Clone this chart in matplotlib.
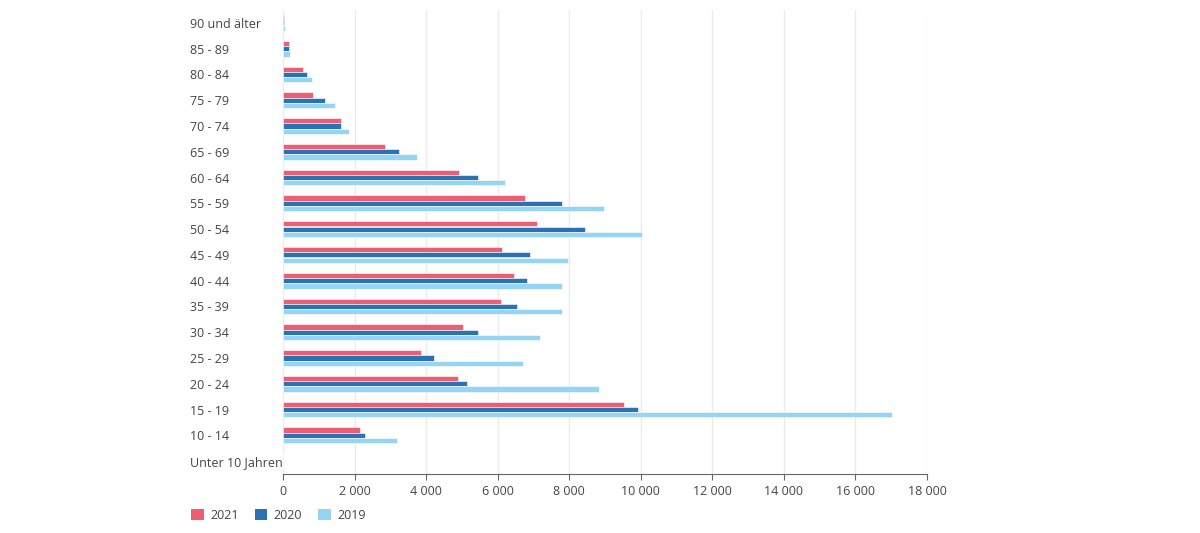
import matplotlib.pyplot as plt
import numpy as np
from matplotlib.patches import Patch

# Daten (von oben nach unten)
altersgruppen = ['90 und älter', '85 - 89', '80 - 84', '75 - 79', '70 - 74', '65 - 69',
                 '60 - 64', '55 - 59', '50 - 54', '45 - 49', '40 - 44', '35 - 39',
                 '30 - 34', '25 - 29', '20 - 24', '15 - 19', '10 - 14', 'Unter 10 Jahren']
werte_2021 = [20, 160, 550, 840, 1620, 2850, 4930, 6760, 7090, 6110, 6470, 6080,
              5020, 3860, 4880, 9520, 2140, 0]
werte_2020 = [30, 175, 670, 1165, 1620, 3230, 5450, 7800, 8430, 6910, 6830, 6550,
              5450, 4210, 5140, 9930, 2280, 0]
werte_2019 = [45, 205, 810, 1450, 1835, 3750, 6210, 8970, 10040, 7970, 7800, 7790,
              7190, 6710, 8830, 17030, 3200, 0]
jahre = ['2021', '2020', '2019']
farben = ['#EC5F73', '#2B72B5', '#95D5F3']

plt.rcParams['font.family'] = ['Open Sans', 'DejaVu Sans']

fig = plt.figure(figsize=(12, 5.33), dpi=100)
ax = fig.add_axes([0.2358, 0.1107, 0.5367, 0.8705])

y = np.arange(len(altersgruppen))
h = 0.2
for i, (werte, farbe) in enumerate(zip([werte_2021, werte_2020, werte_2019], farben)):
    ax.barh(y + (i - 1) * 0.205, werte, height=h, color=farbe,
            edgecolor='white', linewidth=0.4, zorder=3)

ax.set_ylim(len(altersgruppen) - 0.5, -0.5)
ax.set_xlim(0, 18000)
ax.set_xticks(range(0, 18001, 2000))
ax.set_xticklabels([f'{v:,}'.replace(',', ' ') for v in range(0, 18001, 2000)])
ax.set_yticks(y)
ax.set_yticklabels(altersgruppen, ha='left')

ax.tick_params(axis='y', length=0, pad=67, labelsize=9, labelcolor='#444444')
ax.tick_params(axis='x', length=4, width=0.8, color='#666666', pad=4,
               labelsize=9, labelcolor='#444444')
ax.grid(axis='x', color='#ebebeb', linewidth=1, zorder=0)
for s in ['top', 'right', 'left']:
    ax.spines[s].set_visible(False)
ax.spines['bottom'].set_color('#666666')
ax.spines['bottom'].set_linewidth(0.8)

handles = [Patch(facecolor=f, edgecolor='none') for f in farben]
fig.legend(handles, jahre, loc='lower left', bbox_to_anchor=(0.150, 0.0), ncol=3,
           frameon=False, fontsize=9, handlelength=1.0, handleheight=1.0,
           columnspacing=1.3, handletextpad=0.5, labelcolor='#444444')

fig.savefig('out.png', dpi=100, facecolor='white')
